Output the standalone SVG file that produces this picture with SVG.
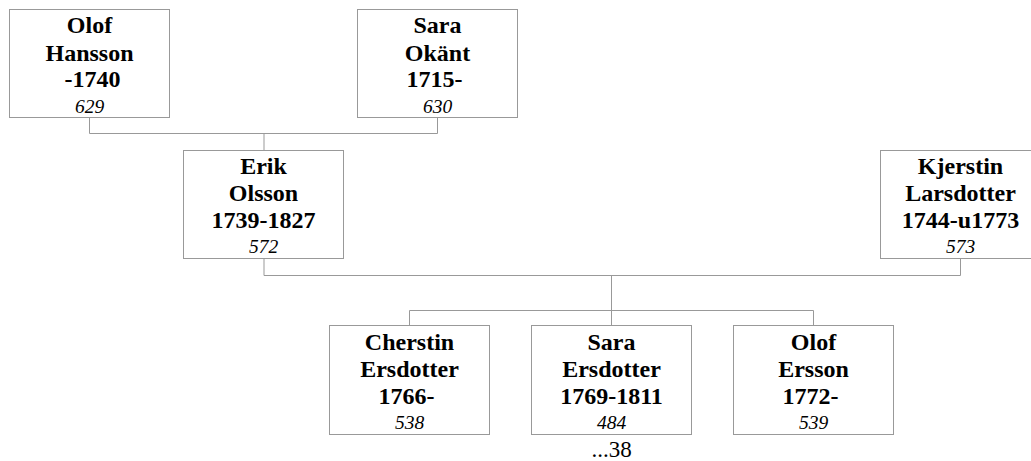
<svg xmlns="http://www.w3.org/2000/svg" width="1031" height="461" viewBox="0 0 1031 461">
<style>
.box{fill:#fff;stroke:#999;stroke-width:1}
.ln{fill:none;stroke:#999;stroke-width:1}
.n{font-weight:bold;font-size:24px;fill:#000;text-anchor:middle}
.id{font-style:italic;font-size:19.5px;fill:#000;text-anchor:middle}
.m{font-size:23px;fill:#000;text-anchor:middle}
</style>
<rect width="1031" height="461" fill="#fff"/>
<g id="connectors">
<path class="ln" d="M89.5 117.5V133.5H437.5V117.5M264 133.5V150.5"/>
<path class="ln" d="M264 258.5V275.5H960.5V258.5M611.5 275.5V310.5M409.5 310.5H813.5M409.5 310.5V325.5M611.5 310.5V325.5M813.5 310.5V325.5"/>
</g>
<g font-family="Liberation Serif">
<g id="n629">
<rect class="box" x="9.5" y="9.5" width="160" height="108"/>
<text class="n" x="89.5" y="33">Olof</text>
<text class="n" x="89.5" y="60.5">Hansson</text>
<text class="n" x="92.5" y="87">-1740</text>
<text class="id" x="89.5" y="112.5">629</text>
</g>
<g id="n630">
<rect class="box" x="357.5" y="9.5" width="160" height="108"/>
<text class="n" x="437.5" y="33">Sara</text>
<text class="n" x="437.5" y="60.5">Okänt</text>
<text class="n" x="434.5" y="87">1715-</text>
<text class="id" x="437.5" y="112.5">630</text>
</g>
<g id="n572">
<rect class="box" x="183.5" y="150.5" width="160" height="108"/>
<text class="n" x="263.5" y="174">Erik</text>
<text class="n" x="263.5" y="201">Olsson</text>
<text class="n" x="263.5" y="227.5">1739-1827</text>
<text class="id" x="263.5" y="252.5">572</text>
</g>
<g id="n573">
<rect class="box" x="880.5" y="150.5" width="160" height="108"/>
<text class="n" x="960.5" y="174">Kjerstin</text>
<text class="n" x="960.5" y="201">Larsdotter</text>
<text class="n" x="960.5" y="227.5">1744-u1773</text>
<text class="id" x="960.5" y="252.5">573</text>
</g>
<g id="n538">
<rect class="box" x="329.5" y="325.5" width="160" height="109"/>
<text class="n" x="409.5" y="350">Cherstin</text>
<text class="n" x="409.5" y="377">Ersdotter</text>
<text class="n" x="406.5" y="403.5">1766-</text>
<text class="id" x="409.5" y="428.5">538</text>
</g>
<g id="n484">
<rect class="box" x="531.5" y="325.5" width="160" height="109"/>
<text class="n" x="611.5" y="350">Sara</text>
<text class="n" x="611.5" y="377">Ersdotter</text>
<text class="n" x="611.5" y="403.5">1769-1811</text>
<text class="id" x="611.5" y="428.5">484</text>
<text class="m" x="611.5" y="456.5">...38</text>
</g>
<g id="n539">
<rect class="box" x="733.5" y="325.5" width="160" height="109"/>
<text class="n" x="813.5" y="350">Olof</text>
<text class="n" x="813.5" y="377">Ersson</text>
<text class="n" x="810.5" y="403.5">1772-</text>
<text class="id" x="813.5" y="428.5">539</text>
</g>
</g>
</svg>
